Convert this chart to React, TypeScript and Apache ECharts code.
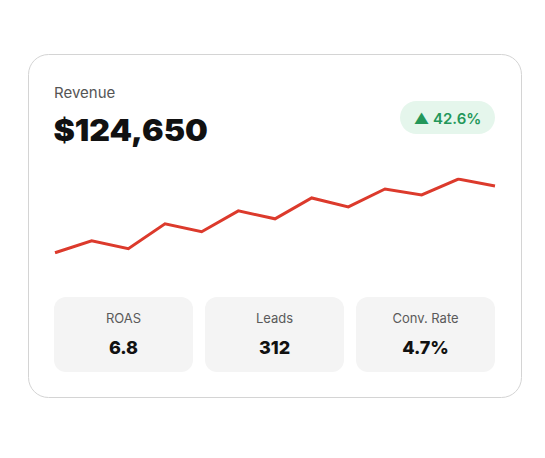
import React, { useEffect, useRef } from "react";
import * as echarts from "echarts";

const points = ["1", "2", "3", "4", "5", "6", "7", "8", "9", "10", "11", "12", "13"];
const revenueTrend = [8.0, 9.2, 8.4, 10.9, 10.1, 12.2, 11.4, 13.5, 12.6, 14.4, 13.8, 15.4, 14.7];
const headlineLabel = "Revenue";
const headlineValue = "$124,650";
const changeLabel = "▲ 42.6%";
const kpiLabels = ["ROAS", "Leads", "Conv. Rate"];
const kpiValues = ["6.8", "312", "4.7%"];

export default function App() {
  const ref = useRef<HTMLDivElement>(null);
  useEffect(() => {
    if (!ref.current) return;
    const chart = echarts.init(ref.current, null, { renderer: "svg" });
    const font = "Inter, 'Noto Sans', sans-serif";
    const kpiX = [54, 205, 356];
    const kpiGraphics: any[] = [];
    kpiLabels.forEach((label, i) => {
      kpiGraphics.push({
        type: "rect",
        shape: { x: kpiX[i], y: 297, width: 139, height: 75, r: 12 },
        style: { fill: "#f4f4f4" },
        z: 1,
      });
      kpiGraphics.push({
        type: "text",
        x: kpiX[i] + 69.5,
        y: 317.5,
        style: {
          text: label,
          fill: "#5a5a5a",
          font: `400 13px ${font}`,
          align: "center",
          verticalAlign: "middle",
        },
        z: 2,
      });
      kpiGraphics.push({
        type: "text",
        x: kpiX[i] + 69.5,
        y: 347,
        style: {
          text: kpiValues[i],
          fill: "#111111",
          font: `800 18px ${font}`,
          align: "center",
          verticalAlign: "middle",
        },
        z: 2,
      });
    });
    chart.setOption({
      animation: false,
      backgroundColor: "#ffffff",
      grid: { left: 55, right: 50, top: 179, bottom: 205.3, containLabel: false },
      xAxis: {
        type: "category",
        data: points,
        boundaryGap: false,
        show: false,
      },
      yAxis: { type: "value", min: 8, max: 15.4, show: false },
      series: [
        {
          type: "line",
          data: revenueTrend,
          symbol: "none",
          lineStyle: { color: "#dc3a2c", width: 3, join: "miter" },
          z: 3,
        },
      ],
      graphic: [
        {
          type: "rect",
          shape: { x: 28.5, y: 54.5, width: 493, height: 343, r: 20 },
          style: { fill: "#ffffff", stroke: "#d4d4d4", lineWidth: 1 },
          z: -10,
        },
        {
          type: "text",
          x: 54,
          y: 92.5,
          style: {
            text: headlineLabel,
            fill: "#555555",
            font: `400 15px ${font}`,
            verticalAlign: "middle",
          },
        },
        {
          type: "text",
          x: 53.5,
          y: 130,
          scaleX: 1.07,
          style: {
            text: headlineValue,
            fill: "#111111",
            font: `900 30px ${font}`,
            verticalAlign: "middle",
          },
        },
        {
          type: "rect",
          shape: { x: 400, y: 101, width: 95, height: 33, r: 16.5 },
          style: { fill: "#e5f6ec" },
        },
        {
          type: "text",
          x: 447.5,
          y: 118,
          style: {
            text: changeLabel,
            fill: "#23975a",
            font: `600 15px ${font}`,
            align: "center",
            verticalAlign: "middle",
          },
        },
        ...kpiGraphics,
      ],
    });
    return () => chart.dispose();
  }, []);
  return (
    <div
      ref={ref}
      style={{ position: "fixed", left: 0, top: 0, width: 545, height: 458 }}
    />
  );
}
